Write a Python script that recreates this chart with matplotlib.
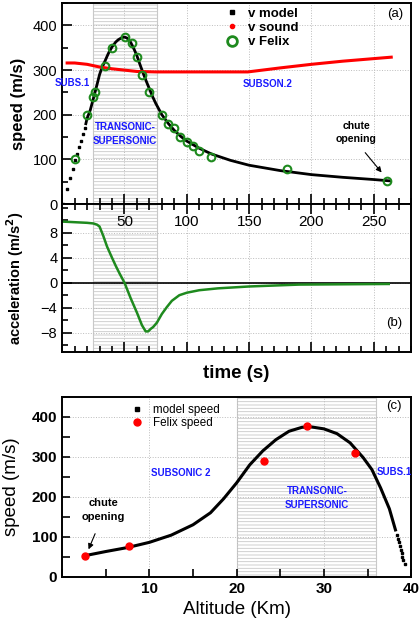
import numpy as np
import matplotlib.pyplot as plt
from matplotlib.ticker import MultipleLocator
from matplotlib.lines import Line2D

plt.rcParams['font.family'] = ['Liberation Sans', 'DejaVu Sans']
plt.rcParams['hatch.linewidth'] = 0.6

# (a) speed vs time
model_t_dots = [1, 4, 6.5, 8.5, 10.5, 12, 13.5, 15, 16.5, 18]
model_v_dots = [0, 33, 58, 78, 98, 112, 127, 141, 156, 171]
model_t = [19, 20, 22.5, 25, 28, 30, 32, 34, 37, 40, 43, 45, 48, 50, 52, 55, 58, 60, 62.5, 65, 67.5,
           70, 72.5, 75, 80, 85, 90, 95, 100, 110, 120, 135, 150, 175, 200, 225, 250, 263]
model_v = [180, 192, 210, 236, 268, 290, 306, 318, 337, 352, 363, 368, 373, 374, 372, 362, 345, 332, 312,
           293, 275, 258, 241, 226, 200, 181, 165, 152, 141, 125, 112, 98, 87, 75, 66, 60, 55, 52]
sound_t = [4, 10, 20, 30, 40, 50, 60, 75, 100, 125, 149, 175, 200, 225, 264]
sound_v = [316, 316, 313, 307, 303, 300, 297, 296, 296, 296, 296, 305, 313, 320, 329]
felix_t = [10.4, 20, 25, 26.5, 34.2, 40.1, 50.3, 56.4, 59.9, 63.9, 70, 80.2, 85, 89.8, 94.9,
           100, 104.8, 109.9, 119.7, 180.2, 260.4]
felix_v = [100, 200, 240, 250, 310, 350, 375, 360, 330, 290, 250, 200, 180, 170, 150,
           140, 130, 120, 105, 79, 52]

# (b) acceleration vs time
acc_t = [0, 10, 20, 25, 28, 30, 33, 36, 40, 43, 46, 50, 55, 60, 64, 67, 69, 71, 73, 76, 80, 84, 88,
         94, 100, 110, 125, 150, 190, 262]
acc_a = [9.8, 9.7, 9.6, 9.5, 9.3, 9.0, 7.5, 5.8, 4.0, 2.7, 1.5, 0, -2.5, -4.8, -6.8, -7.8, -7.8, -7.4,
         -7.1, -6.4, -5.0, -3.9, -2.9, -2.0, -1.6, -1.2, -0.9, -0.6, -0.3, -0.2]
time_ticks = [50, 100, 150, 200, 250]

# (c) speed vs altitude
alt_model = [2.7, 5, 7.5, 10, 12.5, 15, 17, 18.5, 20, 21.5, 23, 24.5, 26, 27.5, 28.5, 30, 31.5, 33,
             34.5, 35.5, 36.5, 37.5, 38.2]
alt_v = [53, 63, 73, 86, 104, 130, 160, 195, 235, 280, 315, 343, 364, 374, 375, 370, 358, 335, 298,
         268, 222, 170, 117]
alt_dots = [38.35, 38.5, 38.6, 38.7, 38.8, 38.9, 39.0, 39.1, 39.25]
alt_dots_v = [105, 95, 86, 77, 68, 59, 50, 41, 33]
felix_alt = [2.65, 7.65, 23.1, 28.1, 33.6]
felix_alt_v = [53, 78, 290, 377, 310]

green = '#1e8a1e'
blue = '#1a1aff'
gridkw = dict(ls=':', color='#bcbcbc', lw=0.7)

fig = plt.figure(figsize=(4.2, 6.28), dpi=100)
ax1 = fig.add_axes([0.148, 0.675, 0.831, 0.320])
ax2 = fig.add_axes([0.148, 0.4395, 0.831, 0.2355])
ax3 = fig.add_axes([0.148, 0.0817, 0.831, 0.2863])

for ax in (ax1, ax2, ax3):
    for s in ax.spines.values():
        s.set_linewidth(1.4)
    ax.grid(True, **gridkw)
    ax.set_axisbelow(True)

# ---- (a)
ax1.axvspan(24.5, 76, facecolor='white', edgecolor='#c8c8c8', hatch='-----', lw=0.8, zorder=0)
ax1.plot(model_t_dots, model_v_dots, ls='none', marker='s', ms=1.8, color='black')
ax1.plot(model_t, model_v, color='black', lw=2)
ax1.plot(sound_t, sound_v, color='red', lw=2.2)
ax1.plot(felix_t, felix_v, ls='none', marker='o', ms=5.5, mfc='none', mec=green, mew=1.5)
ax1.set_xlim(0, 280)
ax1.set_ylim(0, 450)
ax1.xaxis.set_major_locator(MultipleLocator(50))
ax1.xaxis.set_minor_locator(MultipleLocator(10))
ax1.yaxis.set_major_locator(MultipleLocator(100))
ax1.yaxis.set_minor_locator(MultipleLocator(50))
ax1.tick_params(which='both', direction='in', labelsize=10.5, width=1.2)
ax1.tick_params(which='major', length=7)
ax1.tick_params(which='minor', length=4)
ax1.tick_params(axis='x', labelbottom=False)
ax1.set_ylabel('speed (m/s)', fontsize=12, fontweight='bold')
ax1.yaxis.set_label_coords(-0.105, 0.5)
handles = [Line2D([], [], ls='none', marker='s', ms=3, color='black'),
           Line2D([], [], ls='none', marker='o', ms=3, color='red'),
           Line2D([], [], ls='none', marker='o', ms=7, mfc='none', mec=green, mew=2)]
ax1.legend(handles, ['v model', 'v sound', 'v Felix'], loc='upper left', bbox_to_anchor=(0.468, 0.979),
           frameon=False, borderpad=0, borderaxespad=0, handlelength=1.0, handletextpad=0.7,
           labelspacing=0.16, prop={'size': 9.5, 'weight': 'bold'})
ax1.text(0.954, 0.945, '(a)', transform=ax1.transAxes, ha='center', va='center', fontsize=9.5)
ax1.text(7.8, 272, 'SUBS.1', color=blue, fontsize=7, fontweight='bold', ha='center', va='center')
ax1.text(165, 268, 'SUBSON.2', color=blue, fontsize=7, fontweight='bold', ha='center', va='center')
ax1.text(50.5, 158, 'TRANSONIC-\nSUPERSONIC', color=blue, fontsize=7, fontweight='bold',
         ha='center', va='center', linespacing=1.5)
ax1.text(236, 160, 'chute\nopening', fontsize=7.6, fontweight='bold', ha='center', va='center',
         linespacing=1.4)
ax1.annotate('', xy=(257.7, 66), xytext=(241.7, 120),
             arrowprops=dict(arrowstyle='-|>', color='black', lw=0.8, mutation_scale=8))

# ---- (b)
ax2.axvspan(24.5, 76, facecolor='white', edgecolor='#c8c8c8', hatch='-----', lw=0.8, zorder=0)
ax2.axhline(0, color='black', lw=1.2)
ax2.plot(acc_t, acc_a, color=green, lw=1.8)
ax2.set_xlim(0, 280)
ax2.set_ylim(-11.1, 12.6)
ax2.set_xticks(time_ticks)
ax2.xaxis.set_minor_locator(MultipleLocator(10))
ax2.set_yticks([-8, -4, 0, 4, 8])
ax2.yaxis.set_minor_locator(MultipleLocator(2))
ax2.tick_params(which='both', direction='in', labelsize=10.5, width=1.2, top=True)
ax2.tick_params(which='major', length=7)
ax2.tick_params(which='minor', length=4)
ax2.tick_params(axis='x', labeltop=True, labelbottom=False, pad=-18, labelsize=11)
ax2.set_ylabel('acceleration (m/s$^\\mathbf{2}$)', fontsize=10.5, fontweight='bold')
ax2.yaxis.set_label_coords(-0.105, 0.5)
ax2.set_xlabel('time (s)', fontsize=13.5, fontweight='bold', labelpad=6)
ax2.text(0.951, 0.195, '(b)', transform=ax2.transAxes, ha='center', va='center', fontsize=9.5)

# ---- (c)
ax3.axvspan(20, 36, facecolor='white', edgecolor='#c8c8c8', hatch='-----', lw=0.8, zorder=0)
ax3.plot(alt_model, alt_v, color='black', lw=2.2)
ax3.plot(alt_dots, alt_dots_v, ls='none', marker='s', ms=1.8, color='black')
ax3.plot(felix_alt, felix_alt_v, ls='none', marker='o', ms=5, color='red')
ax3.set_xlim(0, 40)
ax3.set_ylim(0, 450)
ax3.set_xticks([10, 20, 30, 40])
ax3.xaxis.set_minor_locator(MultipleLocator(5))
ax3.yaxis.set_major_locator(MultipleLocator(100))
ax3.yaxis.set_minor_locator(MultipleLocator(50))
ax3.tick_params(which='both', direction='in', length=6, width=1.2, labelsize=11)
for lab in ax3.get_xticklabels() + ax3.get_yticklabels():
    lab.set_fontweight('bold')
ax3.set_xlabel('Altitude (Km)', fontsize=13.5)
ax3.set_ylabel('speed (m/s)', fontsize=13.5)
ax3.yaxis.set_label_coords(-0.12, 0.5)
handles3 = [Line2D([], [], ls='none', marker='s', ms=2.5, color='black'),
            Line2D([], [], ls='none', marker='o', ms=5, color='red')]
ax3.legend(handles3, ['model speed', 'Felix speed'], loc='upper left', bbox_to_anchor=(0.197, 0.96),
           frameon=False, borderpad=0, borderaxespad=0, handlelength=1.0, handletextpad=0.9,
           labelspacing=0.05, fontsize=8.4)
ax3.text(0.949, 0.948, '(c)', transform=ax3.transAxes, ha='center', va='center', fontsize=9.5)
ax3.text(13.6, 259, 'SUBSONIC 2', color=blue, fontsize=7, fontweight='bold', ha='center', va='center')
ax3.text(38.1, 262, 'SUBS.1', color=blue, fontsize=7, fontweight='bold', ha='center', va='center')
ax3.text(29.2, 197, 'TRANSONIC-\nSUPERSONIC', color=blue, fontsize=7, fontweight='bold',
         ha='center', va='center', linespacing=1.5)
ax3.text(4.7, 167, 'chute\nopening', fontsize=8, fontweight='bold', ha='center', va='center',
         linespacing=1.4)
ax3.annotate('', xy=(2.9, 62), xytext=(3.9, 114),
             arrowprops=dict(arrowstyle='-|>', color='black', lw=0.8, mutation_scale=8))

fig.savefig('out.png', dpi=100)
